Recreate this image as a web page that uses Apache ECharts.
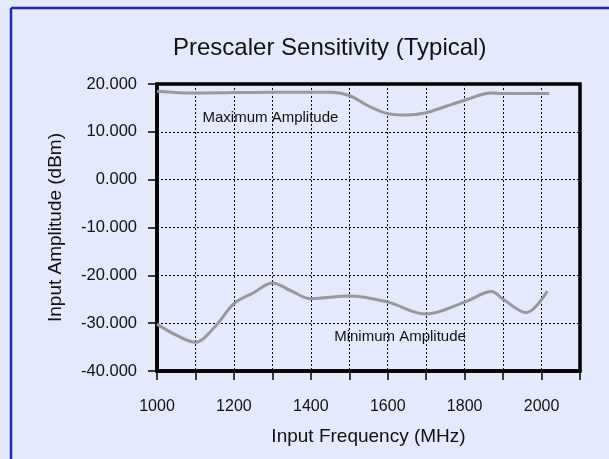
<!DOCTYPE html>
<html>
<head>
<meta charset="utf-8">
<script src="https://cdn.jsdelivr.net/npm/echarts@6/dist/echarts.min.js"></script>
<style>
  html, body { margin: 0; padding: 0; background: #e4e9fb; }
  #chart { width: 609px; height: 459px; }
</style>
</head>
<body>
<div id="chart"></div>
<script>
// frequency points (MHz) and amplitudes (dBm)
const maxFreq = [1000, 1100, 1200, 1300, 1400, 1450, 1500, 1550, 1600, 1650, 1700, 1750, 1800, 1870, 1900, 2000, 2020];
const maxAmp = [18.5, 18.1, 18.2, 18.3, 18.3, 18.3, 17.6, 15.4, 13.8, 13.5, 14.0, 15.3, 16.6, 18.1, 18.0, 18.0, 18.0];

const minFreq = [1000, 1050, 1100, 1150, 1200, 1250, 1300, 1350, 1400, 1500, 1600, 1700, 1800, 1870, 1900, 1960, 2015];
const minAmp = [-30.2, -32.5, -34.0, -30.8, -25.9, -23.7, -21.6, -23.3, -24.9, -24.3, -25.6, -28.1, -25.6, -23.4, -25.0, -27.8, -23.3];

const xLabels = [1000, 1200, 1400, 1600, 1800, 2000];

const chart = echarts.init(document.getElementById('chart'), null, { renderer: 'canvas' });

const pairs = (xs, ys) => xs.map((x, i) => [x, ys[i]]);
const fontFamily = '"Liberation Sans", Arial, sans-serif';

const option = {
    backgroundColor: '#e4e9fb',
    animation: false,
    title: {
        text: 'Prescaler Sensitivity (Typical)',
        left: 168,
        top: 31,
        textStyle: { fontFamily: fontFamily, fontSize: 24, fontWeight: 'normal', color: '#111' }
    },
    grid: {
        left: 157, right: 29, top: 84, bottom: 88,
        show: true, borderColor: '#000', borderWidth: 3.5, backgroundColor: 'transparent'
    },
    xAxis: {
        type: 'value',
        min: 1000, max: 2100, interval: 100,
        name: 'Input Frequency (MHz)',
        nameLocation: 'middle',
        nameGap: 56,
        nameTextStyle: { fontFamily: fontFamily, fontSize: 19, color: '#111' },
        axisLine: { onZero: false, lineStyle: { color: '#000', width: 3.5 } },
        axisTick: { length: 9, lineStyle: { color: '#000', width: 1.5 } },
        axisLabel: {
            margin: 28, fontFamily: fontFamily, fontSize: 16, color: '#111',
            formatter: v => xLabels.indexOf(v) >= 0 ? String(v) : ''
        },
        splitLine: { lineStyle: { color: '#000', type: [2, 2], width: 1 } }
    },
    yAxis: {
        type: 'value',
        min: -40, max: 20, interval: 10,
        name: 'Input Amplitude (dBm)',
        nameLocation: 'middle',
        nameGap: 92,
        nameTextStyle: { fontFamily: fontFamily, fontSize: 19, color: '#111' },
        axisLine: { show: true, onZero: false, lineStyle: { color: '#000', width: 3.5 } },
        axisTick: { show: true, length: 9, lineStyle: { color: '#000', width: 1.5 } },
        axisLabel: {
            margin: 20, fontFamily: fontFamily, fontSize: 16.5, color: '#111',
            formatter: v => v.toFixed(3)
        },
        splitLine: { lineStyle: { color: '#000', type: [2, 2], width: 1 } }
    },
    graphic: [
        { type: 'line', shape: { x1: 11, y1: 8, x2: 609, y2: 8 }, style: { stroke: '#1c22d6', lineWidth: 2.5 } },
        { type: 'line', shape: { x1: 11, y1: 8, x2: 11, y2: 459 }, style: { stroke: '#1c22d6', lineWidth: 2.5 } }
    ],
    series: [
        {
            name: 'Maximum Amplitude',
            type: 'line',
            smooth: 0.35,
            symbol: 'none',
            data: pairs(maxFreq, maxAmp),
            lineStyle: { color: '#999', width: 3 },
            markPoint: {
                symbol: 'circle', symbolSize: 0,
                data: [{ coord: [1295, 12.9], value: 0 }],
                label: { show: true, position: 'inside', formatter: 'Maximum Amplitude', fontFamily: fontFamily, fontSize: 15, color: '#111' }
            }
        },
        {
            name: 'Minimum Amplitude',
            type: 'line',
            smooth: 0.35,
            symbol: 'none',
            data: pairs(minFreq, minAmp),
            lineStyle: { color: '#999', width: 3 },
            markPoint: {
                symbol: 'circle', symbolSize: 0,
                data: [{ coord: [1632, -32.9], value: 0 }],
                label: { show: true, position: 'inside', formatter: 'Minimum Amplitude', fontFamily: fontFamily, fontSize: 15, color: '#111' }
            }
        }
    ]
};

chart.setOption(option);
</script>
</body>
</html>
